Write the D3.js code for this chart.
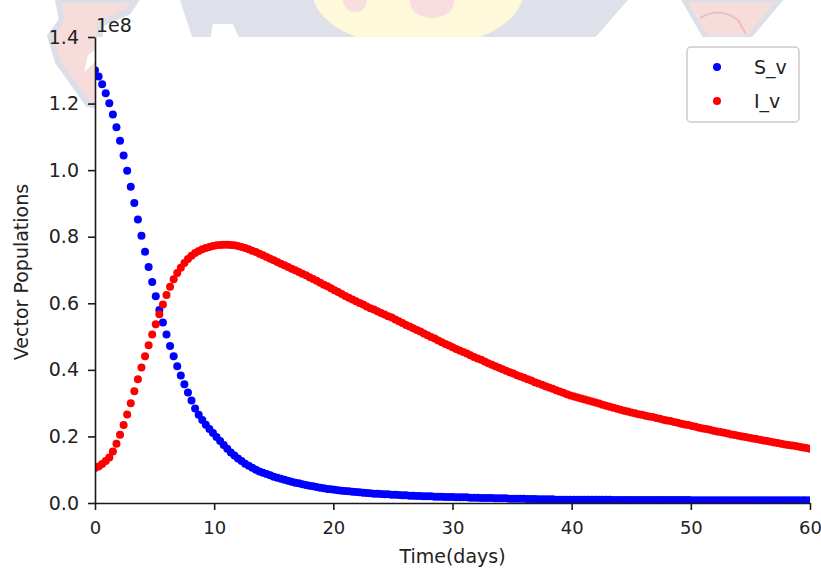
<!DOCTYPE html>
<html>
<head>
<meta charset="utf-8">
<script src="https://cdn.jsdelivr.net/npm/d3@7"></script>
<style>
  html, body { margin: 0; padding: 0; background: #ffffff; }
  svg { display: block; }
  text { font-family: "DejaVu Sans", sans-serif; fill: #222; }
</style>
</head>
<body>
<svg id="chart" width="821" height="571"></svg>
<script>
// Simulation output: time grid (days) and vector populations (units of 1e8)
const days = [
  0,0.3,0.6,0.9,1.2,1.5,1.8,2.1,2.4,2.7,
  3,3.3,3.6,3.9,4.2,4.5,4.8,5.1,5.4,5.7,
  6,6.3,6.6,6.9,7.2,7.5,7.8,8.1,8.4,8.7,
  9,9.3,9.6,9.9,10.2,10.5,10.8,11.1,11.4,11.7,
  12,12.3,12.6,12.9,13.2,13.5,13.8,14.1,14.4,14.7,
  15,15.3,15.6,15.9,16.2,16.5,16.8,17.1,17.4,17.7,
  18,18.3,18.6,18.9,19.2,19.5,19.8,20.1,20.4,20.7,
  21,21.3,21.6,21.9,22.2,22.5,22.8,23.1,23.4,23.7,
  24,24.3,24.6,24.9,25.2,25.5,25.8,26.1,26.4,26.7,
  27,27.3,27.6,27.9,28.2,28.5,28.8,29.1,29.4,29.7,
  30,30.3,30.6,30.9,31.2,31.5,31.8,32.1,32.4,32.7,
  33,33.3,33.6,33.9,34.2,34.5,34.8,35.1,35.4,35.7,
  36,36.3,36.6,36.9,37.2,37.5,37.8,38.1,38.4,38.7,
  39,39.3,39.6,39.9,40.2,40.5,40.8,41.1,41.4,41.7,
  42,42.3,42.6,42.9,43.2,43.5,43.8,44.1,44.4,44.7,
  45,45.3,45.6,45.9,46.2,46.5,46.8,47.1,47.4,47.7,
  48,48.3,48.6,48.9,49.2,49.5,49.8,50.1,50.4,50.7,
  51,51.3,51.6,51.9,52.2,52.5,52.8,53.1,53.4,53.7,
  54,54.3,54.6,54.9,55.2,55.5,55.8,56.1,56.4,56.7,
  57,57.3,57.6,57.9,58.2,58.5,58.8,59.1,59.4,59.7,
  60
];

const susceptibleVectors = [
  1.300,1.281,1.258,1.231,1.201,1.167,1.129,1.088,1.044,0.998,
  0.950,0.901,0.852,0.803,0.755,0.709,0.664,0.621,0.580,0.542,
  0.506,0.472,0.441,0.411,0.383,0.357,0.332,0.308,0.284,0.265,
  0.249,0.235,0.222,0.210,0.198,0.186,0.174,0.163,0.152,0.143,
  0.134,0.126,0.118,0.112,0.106,0.100,0.095,0.091,0.087,0.083,
  0.079,0.076,0.073,0.070,0.067,0.064,0.061,0.059,0.056,0.054,
  0.052,0.050,0.048,0.046,0.044,0.042,0.041,0.040,0.038,0.037,
  0.036,0.035,0.034,0.033,0.032,0.031,0.030,0.029,0.028,0.028,
  0.027,0.026,0.026,0.025,0.025,0.024,0.023,0.023,0.022,0.022,
  0.021,0.021,0.020,0.020,0.020,0.019,0.019,0.019,0.018,0.018,
  0.018,0.017,0.017,0.017,0.017,0.016,0.016,0.016,0.015,0.015,
  0.015,0.015,0.014,0.014,0.014,0.014,0.013,0.013,0.013,0.013,
  0.013,0.012,0.012,0.012,0.011,0.011,0.011,0.011,0.011,0.010,
  0.010,0.010,0.010,0.010,0.010,0.010,0.010,0.010,0.010,0.010,
  0.010,0.010,0.010,0.010,0.010,0.009,0.009,0.009,0.009,0.009,
  0.009,0.009,0.009,0.009,0.009,0.009,0.009,0.009,0.009,0.009,
  0.009,0.009,0.009,0.009,0.009,0.009,0.009,0.008,0.008,0.008,
  0.008,0.008,0.008,0.008,0.008,0.008,0.008,0.008,0.008,0.008,
  0.008,0.008,0.008,0.008,0.008,0.008,0.008,0.008,0.008,0.008,
  0.008,0.008,0.008,0.008,0.008,0.008,0.008,0.008,0.008,0.008,
  0.008
];

const infectedVectors = [
  0.105,0.110,0.117,0.126,0.137,0.155,0.178,0.205,0.234,0.266,
  0.300,0.336,0.372,0.407,0.441,0.474,0.506,0.537,0.567,0.596,
  0.625,0.650,0.672,0.691,0.707,0.721,0.733,0.743,0.751,0.757,
  0.762,0.766,0.769,0.772,0.774,0.775,0.776,0.776,0.775,0.774,
  0.772,0.769,0.766,0.762,0.758,0.754,0.749,0.744,0.739,0.734,
  0.729,0.724,0.719,0.714,0.709,0.704,0.699,0.694,0.689,0.684,
  0.678,0.673,0.668,0.662,0.656,0.651,0.645,0.639,0.634,0.628,
  0.622,0.617,0.611,0.606,0.601,0.596,0.590,0.585,0.581,0.576,
  0.571,0.566,0.561,0.557,0.551,0.546,0.541,0.535,0.530,0.525,
  0.520,0.515,0.509,0.504,0.499,0.494,0.488,0.483,0.478,0.473,
  0.468,0.463,0.458,0.454,0.449,0.444,0.439,0.434,0.430,0.425,
  0.420,0.415,0.411,0.406,0.402,0.397,0.393,0.389,0.384,0.380,
  0.376,0.372,0.368,0.363,0.359,0.355,0.351,0.347,0.343,0.339,
  0.335,0.331,0.327,0.323,0.320,0.317,0.314,0.311,0.308,0.305,
  0.302,0.299,0.295,0.292,0.289,0.286,0.283,0.280,0.277,0.275,
  0.272,0.270,0.267,0.265,0.262,0.260,0.258,0.255,0.253,0.250,
  0.248,0.246,0.243,0.241,0.238,0.236,0.234,0.231,0.229,0.226,
  0.224,0.222,0.220,0.217,0.215,0.213,0.211,0.209,0.206,0.204,
  0.202,0.200,0.198,0.196,0.194,0.192,0.190,0.188,0.186,0.184,
  0.182,0.180,0.178,0.176,0.174,0.173,0.171,0.169,0.167,0.165,
  0.163
];

const seriesNames = ["S_v", "I_v"];
const seriesColors = ["#0000ff", "#ff0000"];
const xTickValues = [0, 10, 20, 30, 40, 50, 60];
const yTickValues = [0, 0.2, 0.4, 0.6, 0.8, 1.0, 1.2, 1.4];
const yOffsetText = "1e8";
const xTitle = "Time(days)";
const yTitle = "Vector Populations";

// ---- layout ----
const FONT = 19;
const X_TICK_FONT = 18;
const DOT_R = 4;
const frame = { left: 95, right: 810, top: 37, bottom: 503 };
const svg = d3.select("#chart");

const x = d3.scaleLinear().domain([0, 60]).range([frame.left, frame.right]);
const y = d3.scaleLinear().domain([0, 1.4]).range([frame.bottom, frame.top]);

// ---- faded emblem behind the figure ----
const emblem = svg.append("g").attr("class", "emblem");
const poly = pts => "M" + pts.map(p => p.join(",")).join("L") + "Z";
emblem.append("path").attr("d", poly([[180,0],[628,0],[593,40],[193,40]])).attr("fill", "#dfe1ea");
emblem.append("path").attr("d", poly([[213,24],[233,24],[240,40],[210,40]])).attr("fill", "#ffffff");
emblem.append("ellipse").attr("cx", 418).attr("cy", -10).attr("rx", 106).attr("ry", 58).attr("fill", "#fdf9da");
emblem.append("ellipse").attr("cx", 355).attr("cy", 0).attr("rx", 12).attr("ry", 12).attr("fill", "#f8dede");
emblem.append("ellipse").attr("cx", 432).attr("cy", 2).attr("rx", 22).attr("ry", 16).attr("fill", "#f8dede");
emblem.append("path")
  .attr("d", poly([[58,0],[136,0],[128,12],[100,24],[98,106],[88,104],[58,62],[50,36],[62,20]]))
  .attr("fill", "#f7dcdc").attr("stroke", "#dcdfe8").attr("stroke-width", 6);
emblem.append("path").attr("d", poly([[88,55],[95,50],[95,62],[84,72]])).attr("fill", "#ffffff");
emblem.append("path")
  .attr("d", poly([[684,0],[780,0],[748,38],[706,38]]))
  .attr("fill", "#f7dcdc").attr("stroke", "#dcdfe8").attr("stroke-width", 5);
emblem.append("path").attr("d", "M700,18 Q720,6 738,20 L746,34").attr("fill", "none")
  .attr("stroke", "#eebcbc").attr("stroke-width", 2);

// ---- axes background ----
svg.append("rect")
  .attr("x", frame.left).attr("y", frame.top)
  .attr("width", frame.right - frame.left).attr("height", frame.bottom - frame.top)
  .attr("fill", "#ffffff");

svg.append("clipPath").attr("id", "plot-clip")
  .append("rect")
  .attr("x", frame.left).attr("y", frame.top)
  .attr("width", frame.right - frame.left).attr("height", frame.bottom - frame.top);

// ---- markers ----
const series = [susceptibleVectors, infectedVectors];
const marks = svg.append("g").attr("clip-path", "url(#plot-clip)");
series.forEach((vals, si) => {
  marks.append("g")
    .selectAll("circle")
    .data(days.map((d, i) => [d, vals[i]]))
    .join("circle")
    .attr("cx", d => x(d[0]))
    .attr("cy", d => y(d[1]))
    .attr("r", DOT_R)
    .attr("fill", seriesColors[si]);
});

// ---- axes ----
const xAxis = d3.axisBottom(x).tickValues(xTickValues).tickFormat(d3.format("d"))
  .tickSize(7).tickSizeOuter(0).tickPadding(11);
const yAxis = d3.axisLeft(y).tickValues(yTickValues).tickFormat(d3.format(".1f"))
  .tickSize(7).tickSizeOuter(0).tickPadding(9);

const gx = svg.append("g").attr("transform", `translate(0,${frame.bottom})`).call(xAxis);
const gy = svg.append("g").attr("transform", `translate(${frame.left},0)`).call(yAxis);
[gx, gy].forEach(g => {
  g.select(".domain").attr("stroke", "#1a1a1a").attr("stroke-width", 1.6);
  g.selectAll(".tick line").attr("stroke", "#1a1a1a").attr("stroke-width", 1.6);
  g.selectAll(".tick text").attr("font-family", "DejaVu Sans").attr("fill", "#222");
});
gx.selectAll(".tick text").attr("font-size", X_TICK_FONT);
gy.selectAll(".tick text").attr("font-size", FONT);

// offset label above the y axis
svg.append("text").attr("x", 96).attr("y", 32)
  .attr("font-size", FONT).text(yOffsetText);

// axis titles
svg.append("text")
  .attr("x", (frame.left + frame.right) / 2).attr("y", 563)
  .attr("text-anchor", "middle").attr("font-size", FONT).text(xTitle);
svg.append("text")
  .attr("transform", `translate(28,${(frame.top + frame.bottom) / 2 + 2}) rotate(-90)`)
  .attr("text-anchor", "middle").attr("font-size", FONT).text(yTitle);

// ---- legend ----
const legend = svg.append("g");
legend.append("rect")
  .attr("x", 687).attr("y", 47).attr("width", 112).attr("height", 75).attr("rx", 4)
  .attr("fill", "#ffffff").attr("fill-opacity", 0.8)
  .attr("stroke", "#cccccc").attr("stroke-width", 1.5);
seriesNames.forEach((name, i) => {
  const cy = 67 + i * 34;
  legend.append("circle").attr("cx", 717).attr("cy", cy).attr("r", DOT_R).attr("fill", seriesColors[i]);
  legend.append("text").attr("x", 754).attr("y", cy).attr("dy", "0.36em")
    .attr("font-size", FONT).text(name);
});
</script>
</body>
</html>
